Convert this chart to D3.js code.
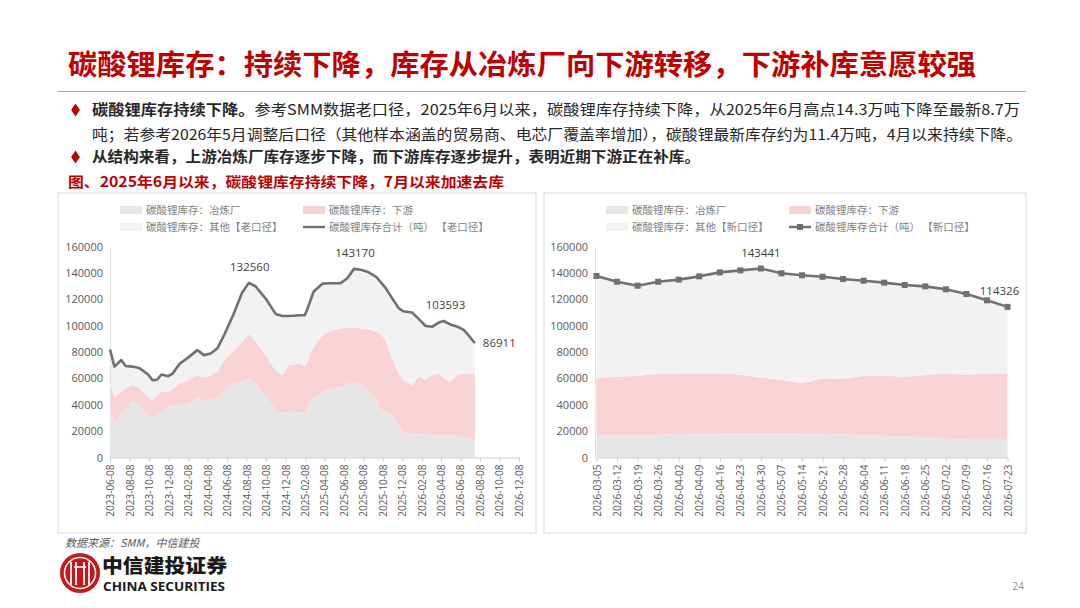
<!DOCTYPE html>
<html>
<head>
<meta charset="utf-8">
<script src="https://cdn.jsdelivr.net/npm/d3@7"></script>
<style>
  html, body { margin: 0; padding: 0; background: #fff; }
  svg { display: block; }
  text { font-family: "Open Sans", "Noto Sans CJK SC", sans-serif; }
  .cjk { font-family: "Noto Sans CJK SC", sans-serif; }
</style>
</head>
<body>
<div id="container"></div>
<script>
// ---- data: old caliber (left panel) ----
const oldDates = ["2023-06-08","2023-06-22","2023-07-13","2023-07-27","2023-08-17","2023-09-07","2023-10-05","2023-10-19",
  "2023-11-02","2023-11-16","2023-12-07","2023-12-21","2024-01-11","2024-02-08","2024-03-07","2024-03-28","2024-04-18",
  "2024-05-09","2024-05-30","2024-06-27","2024-07-25","2024-08-15","2024-09-05","2024-10-10","2024-11-07","2024-11-28",
  "2024-12-19","2025-01-23","2025-02-06","2025-02-13","2025-03-06","2025-04-03","2025-04-30","2025-05-29","2025-06-19",
  "2025-07-10","2025-07-31","2025-08-21","2025-09-18","2025-09-25","2025-10-16","2025-11-06","2025-11-27","2025-12-11",
  "2026-01-08","2026-01-29","2026-02-19","2026-03-12","2026-04-02","2026-04-16","2026-05-07","2026-05-28","2026-06-18",
  "2026-07-02","2026-07-23"];
const oldTotal = [82000,69000,74000,69500,69000,68000,63000,58700,59000,63000,61700,63700,71000,76000,81500,77700,79000,
  83000,93000,108000,125000,132560,130000,119600,109000,107400,107400,108000,108000,112000,126000,132000,132300,132300,
  136000,143170,142500,141000,137000,135000,129000,121000,113300,111000,110000,105000,99800,99300,102500,103593,101000,
  99500,96800,93000,86911];
const oldSmelter = [36000,27000,34000,37000,43000,40000,32000,30500,33000,35000,38000,39500,39600,41000,46000,43000,44000,
  46000,51000,56000,58000,60000,56000,46000,36000,34000,35000,34000,33300,38000,45000,50000,52000,53600,56000,57400,56000,
  51000,43400,38000,34500,32000,25700,19300,18000,18000,17500,17000,17000,17000,16800,16500,15500,14500,13000];
const oldDownstream = [20000,19000,16000,15000,12000,13000,14000,13000,14000,15000,12000,12500,16400,17700,16500,18000,18000,
  19000,23000,24000,30000,33700,32000,30000,30000,28500,35000,37400,35500,34000,39000,43000,44000,44400,42500,41400,42000,
  46300,52100,56700,55500,43000,38300,39400,36900,43200,41500,45500,46800,43000,40600,46000,48300,48500,51000];
const oldTickLabels = ["2023-06-08","2023-08-08","2023-10-08","2023-12-08","2024-02-08","2024-04-08","2024-06-08",
  "2024-08-08","2024-10-08","2024-12-08","2025-02-08","2025-04-08","2025-06-08","2025-08-08","2025-10-08","2025-12-08",
  "2026-02-08","2026-04-08","2026-06-08","2026-08-08","2026-10-08","2026-12-08"];
const oldMarked = ["2024-08-15","2025-07-10","2026-04-16","2026-07-23"];

// ---- data: new caliber (right panel) ----
const newDates = ["2026-03-05","2026-03-12","2026-03-19","2026-03-26","2026-04-02","2026-04-09","2026-04-16","2026-04-23",
  "2026-04-30","2026-05-07","2026-05-14","2026-05-21","2026-05-28","2026-06-04","2026-06-11","2026-06-18","2026-06-25",
  "2026-07-02","2026-07-09","2026-07-16","2026-07-23"];
const newTotal = [137800,133400,130400,133400,135000,137500,140500,142000,143441,139800,138300,137200,135500,134200,
  132700,130900,129900,127700,124100,119300,114326];
const newSmelter = [17000,16500,16800,17200,17800,18200,18500,18500,18500,18500,18500,18000,17500,17000,16500,16000,
  15500,14300,13500,13500,13500];
const newDownstream = [43600,44800,45200,46200,46000,45600,45300,44300,42100,40400,37800,42000,42100,45000,45500,45300,
  47100,49500,49100,50300,50300];
const newMarked = ["2026-04-30","2026-07-23"];

const yTicks = [0,20000,40000,60000,80000,100000,120000,140000,160000];
const seriesNames = ["碳酸锂库存：冶炼厂","碳酸锂库存：下游","碳酸锂库存：其他","碳酸锂库存合计（吨）"];

const W = 1080, H = 608;
const svg = d3.select('#container').append('svg').attr('width', W).attr('height', H);
svg.append('rect').attr('width', W).attr('height', H).attr('fill', '#fff');

const RED = '#c00000';
const colSmelter = '#e6e6e6', colDown = '#f7d3d3', colOther = '#f2f2f2', colLine = '#707070';

// ---- header ----
svg.append('text').attr('class', 'cjk').attr('x', 68).attr('y', 75)
  .attr('font-size', 28).attr('font-weight', 700).attr('fill', RED)
  .attr('textLength', 908).attr('lengthAdjust', 'spacingAndGlyphs')
  .text('碳酸锂库存：持续下降，库存从冶炼厂向下游转移，下游补库意愿较强');
svg.append('line').attr('x1', 58).attr('x2', 1026).attr('y1', 91.5).attr('y2', 91.5)
  .attr('stroke', '#a6a6a6').attr('stroke-width', 1);

function bullet(y) {
  svg.append('path').attr('d', d3.symbol(d3.symbolDiamond, 55)())
    .attr('transform', 'translate(75.5,' + (y - 5) + ') scale(1.1,0.95)').attr('fill', RED);
}
bullet(115);
const l1 = svg.append('text').attr('class', 'cjk').attr('x', 92).attr('y', 115).attr('font-size', 14.5)
  .attr('fill', '#262626').attr('textLength', 928).attr('lengthAdjust', 'spacingAndGlyphs');
l1.append('tspan').attr('font-weight', 700).text('碳酸锂库存持续下降。');
l1.append('tspan').text('参考SMM数据老口径，2025年6月以来，碳酸锂库存持续下降，从2025年6月高点14.3万吨下降至最新8.7万');
svg.append('text').attr('class', 'cjk').attr('x', 92).attr('y', 139.5).attr('font-size', 14.5)
  .attr('fill', '#262626').attr('textLength', 930).attr('lengthAdjust', 'spacingAndGlyphs')
  .text('吨；若参考2026年5月调整后口径（其他样本涵盖的贸易商、电芯厂覆盖率增加），碳酸锂最新库存约为11.4万吨，4月以来持续下降。');
bullet(162);
svg.append('text').attr('class', 'cjk').attr('x', 92).attr('y', 162).attr('font-size', 14.5)
  .attr('font-weight', 700).attr('fill', '#262626').attr('textLength', 608).attr('lengthAdjust', 'spacingAndGlyphs')
  .text('从结构来看，上游冶炼厂库存逐步下降，而下游库存逐步提升，表明近期下游正在补库。');
svg.append('text').attr('class', 'cjk').attr('x', 68).attr('y', 186.5).attr('font-size', 14)
  .attr('font-weight', 700).attr('fill', RED).attr('textLength', 436).attr('lengthAdjust', 'spacingAndGlyphs')
  .text('图、2025年6月以来，碳酸锂库存持续下降，7月以来加速去库');

// ---- panels ----
const parse = d3.timeParse('%Y-%m-%d');
const y = d3.scaleLinear().domain([0, 160000]).range([457.5, 246.7]);

function panel(opt) {
  const g = svg.append('g');
  g.append('rect').attr('x', opt.box[0]).attr('y', 193).attr('width', opt.box[1] - opt.box[0]).attr('height', 340)
    .attr('fill', '#fff').attr('stroke', '#d9d9d9').attr('stroke-width', 1);

  const rows = opt.dates.map((d, i) => ({
    date: d, smelter: opt.smelter[i], down: opt.down[i],
    other: opt.total[i] - opt.smelter[i] - opt.down[i], total: opt.total[i]
  }));
  const stack = d3.stack().keys(['smelter', 'down', 'other'])(rows);
  const colors = [colSmelter, colDown, colOther];
  const area = d3.area().x(d => opt.x(d.data.date)).y0(d => y(d[0])).y1(d => y(d[1]));
  g.selectAll('.layer').data(stack).enter().append('path').attr('class', 'layer')
    .attr('d', area).attr('fill', (d, i) => colors[i]);

  // axes
  const yAxis = d3.axisLeft(y).tickValues(yTicks).tickFormat(d3.format('d')).tickSize(0).tickPadding(7);
  const ya = g.append('g').attr('transform', 'translate(' + opt.x0 + ',0)').call(yAxis);
  ya.select('.domain').attr('stroke', '#e3e3e3');
  ya.selectAll('text').attr('font-size', 11).attr('fill', '#595959');

  const xa = g.append('g').attr('transform', 'translate(0,' + y(0) + ')').call(opt.xAxis);
  xa.select('.domain').attr('stroke', '#d0d0d0');
  xa.selectAll('.tick line').attr('stroke', '#d0d0d0');
  xa.selectAll('text').attr('font-size', 10).attr('fill', '#595959')
    .attr('transform', 'rotate(-90)').attr('text-anchor', 'end').attr('x', -7).attr('y', 0).attr('dy', '0.35em');

  // total line
  const line = d3.line().x(d => opt.x(d.date)).y(d => y(d.total));
  g.append('path').datum(rows).attr('d', line).attr('fill', 'none')
    .attr('stroke', colLine).attr('stroke-width', 2.6).attr('stroke-linejoin', 'round');
  if (opt.markers) {
    g.selectAll('.mk').data(rows).enter().append('rect').attr('class', 'mk')
      .attr('x', d => opt.x(d.date) - 3).attr('y', d => y(d.total) - 3)
      .attr('width', 6).attr('height', 6).attr('fill', colLine);
  }
  // data labels
  rows.filter(d => opt.marked.includes(d.date)).forEach((d, i) => {
    const off = opt.labelOff[i];
    g.append('text').attr('x', opt.x(d.date) + off[0]).attr('y', y(d.total) + off[1])
      .attr('text-anchor', off[2]).attr('dy', '0.35em').attr('font-size', 11.5).attr('fill', '#404040')
      .text(d.total);
  });

  // legend
  const lx = [opt.box[0] + 62, opt.box[0] + 245];
  const lg = g.append('g').attr('font-size', 10.5).attr('fill', '#7f7f7f');
  lg.append('rect').attr('x', lx[0]).attr('y', 206).attr('width', 22).attr('height', 8).attr('fill', colSmelter);
  lg.append('text').attr('class', 'cjk').attr('x', lx[0] + 26).attr('y', 210).attr('dy', '0.35em').text(seriesNames[0]);
  lg.append('rect').attr('x', lx[1]).attr('y', 206).attr('width', 22).attr('height', 8).attr('fill', colDown);
  lg.append('text').attr('class', 'cjk').attr('x', lx[1] + 26).attr('y', 210).attr('dy', '0.35em').text(seriesNames[1]);
  lg.append('rect').attr('x', lx[0]).attr('y', 223).attr('width', 22).attr('height', 8).attr('fill', colOther);
  lg.append('text').attr('class', 'cjk').attr('x', lx[0] + 26).attr('y', 227).attr('dy', '0.35em')
    .text(seriesNames[2] + opt.tag);
  lg.append('line').attr('x1', lx[1]).attr('x2', lx[1] + 22).attr('y1', 227).attr('y2', 227)
    .attr('stroke', colLine).attr('stroke-width', 2.4);
  if (opt.markers) {
    lg.append('rect').attr('x', lx[1] + 8).attr('y', 224).attr('width', 6).attr('height', 6).attr('fill', colLine);
  }
  lg.append('text').attr('class', 'cjk').attr('x', lx[1] + 26).attr('y', 227).attr('dy', '0.35em')
    .text(seriesNames[3] + ' ' + opt.tag);
}

// left: time axis
const xOld = d3.scaleTime().domain([parse('2023-06-08'), parse('2026-12-08')]).range([110, 519]);
const xOldFn = s => xOld(parse(s));
panel({
  box: [58, 536], x0: 110, x: xOldFn, dates: oldDates, total: oldTotal, smelter: oldSmelter, down: oldDownstream,
  xAxis: d3.axisBottom(xOld).tickValues(oldTickLabels.map(parse)).tickFormat(d3.timeFormat('%Y-%m-%d'))
    .tickSize(4).tickSizeOuter(0).tickPadding(4),
  marked: oldMarked, labelOff: [[1, -16, 'middle'], [1, -16, 'middle'], [2, -16, 'middle'], [8, 0, 'start']],
  markers: false, tag: '【老口径】'
});

// right: weekly categories
const xNew = d3.scalePoint().domain(newDates).range([596.5, 1007.5]);
panel({
  box: [544, 1026], x0: 595, x: xNew, dates: newDates, total: newTotal, smelter: newSmelter, down: newDownstream,
  xAxis: d3.axisBottom(xNew).tickSize(4).tickSizeOuter(0).tickPadding(4),
  marked: newMarked, labelOff: [[0, -16, 'middle'], [-8, -16, 'middle']],
  markers: true, tag: '【新口径】'
});

// ---- footer ----
svg.append('text').attr('class', 'cjk').attr('x', 65).attr('y', 543).attr('dy', '0.35em')
  .attr('font-size', 11).attr('font-style', 'italic').attr('fill', '#595959').text('数据来源：SMM，中信建投');
const logo = svg.append('g').attr('transform', 'translate(80,573)');
logo.append('circle').attr('r', 20).attr('fill', '#c8161d');
logo.append('circle').attr('r', 15.5).attr('fill', 'none').attr('stroke', '#fff').attr('stroke-width', 1.6);
[-9, -4, 4, 9].forEach(dx => logo.append('line').attr('x1', dx).attr('x2', dx).attr('y1', -11).attr('y2', 12)
  .attr('stroke', '#fff').attr('stroke-width', 1.8));
logo.append('line').attr('x1', -6).attr('x2', 6).attr('y1', -6).attr('y2', -6).attr('stroke', '#fff').attr('stroke-width', 1.8);
svg.append('text').attr('class', 'cjk').attr('x', 102).attr('y', 566).attr('dy', '0.35em')
  .attr('font-size', 19).attr('font-weight', 900).attr('fill', '#1a1a1a')
  .attr('textLength', 125).attr('lengthAdjust', 'spacingAndGlyphs').text('中信建投证券');
svg.append('text').attr('x', 103).attr('y', 587).attr('dy', '0.35em')
  .attr('font-size', 12).attr('font-weight', 700).attr('fill', '#1a1a1a')
  .attr('textLength', 122).attr('lengthAdjust', 'spacingAndGlyphs').text('CHINA SECURITIES');
svg.append('text').attr('x', 1024).attr('y', 586).attr('dy', '0.35em').attr('text-anchor', 'end')
  .attr('font-size', 10).attr('fill', '#8c8c8c').text('24');
</script>
</body>
</html>
